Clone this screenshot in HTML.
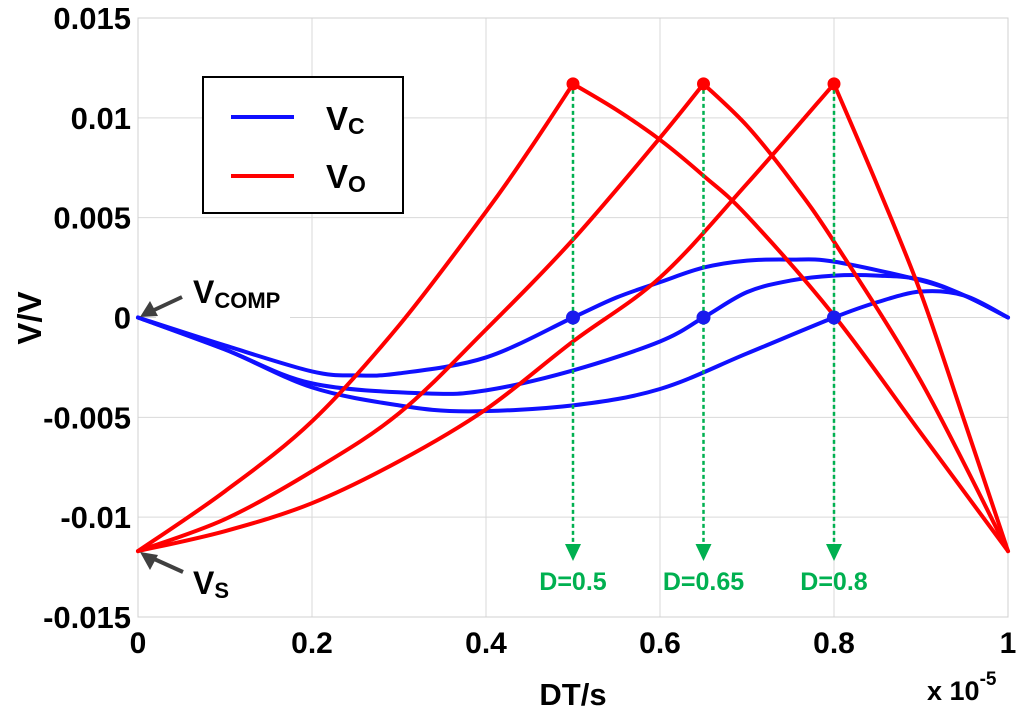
<!DOCTYPE html>
<html><head><meta charset="utf-8"><style>
html,body{margin:0;padding:0;background:#fff;}
svg{display:block;font-family:"Liberation Sans",Arial,sans-serif;font-weight:bold;}
</style></head><body>
<svg id="chart" width="1024" height="716" viewBox="0 0 1024 716" xmlns="http://www.w3.org/2000/svg"></svg>
<script>
const xTicks=[0,0.2,0.4,0.6,0.8,1];
const xTickLabels=["0","0.2","0.4","0.6","0.8","1"];
const yTicks=[0.015,0.01,0.005,0,-0.005,-0.01,-0.015];
const yTickLabels=["0.015","0.01","0.005","0","-0.005","-0.01","-0.015"];
const dutyValues=[0.5,0.65,0.8];
const dutyLabels=["D=0.5","D=0.65","D=0.8"];
const peakValue=0.0117;
const voX05=[0,0.1,0.2,0.3,0.4,0.45,0.5,0.55,0.6,0.65,0.7,0.8,0.9,1];
const voY05=[-0.0117,-0.0087,-0.0052,-0.0004,0.0053,0.0084,0.0117,0.0104,0.0089,0.0071,0.0051,0.0001,-0.0058,-0.0117];
const voX065=[0,0.1,0.2,0.3,0.4,0.5,0.6,0.65,0.7,0.75,0.8,0.9,1];
const voY065=[-0.0117,-0.0101,-0.0077,-0.0048,-0.0006,0.0039,0.0090,0.0117,0.0096,0.0069,0.0038,-0.0032,-0.0117];
const voX08=[0,0.1,0.2,0.3,0.4,0.5,0.6,0.7,0.8,0.85,0.9,0.95,1];
const voY08=[-0.0117,-0.0107,-0.0093,-0.0072,-0.0046,-0.0012,0.0020,0.0067,0.0117,0.0066,0.0012,-0.0052,-0.0117];
const vcX05=[0,0.1,0.2,0.25,0.3,0.4,0.5,0.55,0.6,0.65,0.7,0.75,0.8,0.9,0.95,1];
const vcY05=[0,-0.0014,-0.0027,-0.0029,-0.0028,-0.0020,0,0.0010,0.00177,0.0025,0.00285,0.0029,0.0028,0.00185,0.0011,0];
const vcX065=[0,0.1,0.2,0.33,0.4,0.5,0.6,0.65,0.7,0.75,0.8,0.85,0.9,0.95,1];
const vcY065=[0,-0.0016,-0.0033,-0.0038,-0.00365,-0.00265,-0.0012,0,0.00127,0.00185,0.0021,0.0021,0.0019,0.0011,0];
const vcX08=[0,0.1,0.2,0.3,0.38,0.5,0.6,0.7,0.8,0.85,0.9,0.95,1];
const vcY08=[0,-0.0016,-0.0035,-0.0044,-0.0047,-0.0044,-0.00358,-0.0018,0,0.00077,0.0013,0.0011,0];

const X0=138,X1=1008,YT=18,YB=617;
const sx=v=>X0+(v-0)/(1-0)*(X1-X0);
const sy=v=>YB-(v-(-0.015))/(0.03)*(YB-YT);
const NS="http://www.w3.org/2000/svg";
const svg=document.getElementById('chart');
function mk(tag,attrs,parent){const e=document.createElementNS(NS,tag);for(const k in attrs)e.setAttribute(k,attrs[k]);(parent||svg).appendChild(e);return e;}

xTicks.forEach((t,i)=>{
  const l=mk('line',{x1:sx(t),x2:sx(t),y1:YT,y2:YB,stroke:'#d9d9d9','stroke-width':1});
  
  
  const tx=mk('text',{x:sx(t),y:653,'text-anchor':'middle','font-size':30,fill:'#000'});
  tx.textContent=xTickLabels[i];
  
  
});
yTicks.forEach((t,i)=>{
  const l=mk('line',{x1:X0,x2:X1,y1:sy(t),y2:sy(t),stroke:'#d9d9d9','stroke-width':1});
  
  
  const tx=mk('text',{x:131,y:sy(t)+11,'text-anchor':'end','font-size':31,fill:'#000'});
  tx.textContent=yTickLabels[i];
  
  
});
const frame=mk('rect',{x:X0,y:YT,width:X1-X0,height:YB-YT,fill:'none',stroke:'#d0d0d0','stroke-width':1});



const bg=mk('rect',{x:156,y:300,width:134,height:30,fill:'#fff'});



function smoothPath(pts){
  let d='M'+pts[0][0]+','+pts[0][1];
  for(let i=0;i<pts.length-1;i++){
    const p0=pts[Math.max(0,i-1)],p1=pts[i],p2=pts[i+1],p3=pts[Math.min(pts.length-1,i+2)];
    const c1x=p1[0]+(p2[0]-p0[0])/6,c1y=p1[1]+(p2[1]-p0[1])/6;
    const c2x=p2[0]-(p3[0]-p1[0])/6,c2y=p2[1]-(p3[1]-p1[1])/6;
    d+=` C${c1x},${c1y} ${c2x},${c2y} ${p2[0]},${p2[1]}`;
  }
  return d;
}
function series(xs,ys,color,name,splitAt){
  const pts=xs.map((x,i)=>[sx(x),sy(ys[i])]);
  let d;
  if(splitAt!==undefined){
    const k=xs.indexOf(splitAt);
    d=smoothPath(pts.slice(0,k+1))+' '+smoothPath(pts.slice(k));
  } else d=smoothPath(pts);
  const p=mk('path',{d:d,fill:'none',stroke:color,'stroke-width':4,'stroke-linejoin':'round','stroke-linecap':'round'});
  
  
}
series(vcX05,vcY05,'#1010ff','vc-d050-line');
series(vcX065,vcY065,'#1010ff','vc-d065-line');
series(vcX08,vcY08,'#1010ff','vc-d080-line');
series(voX05,voY05,'#ff0000','vo-d050-line',dutyValues[0]);
series(voX065,voY065,'#ff0000','vo-d065-line',dutyValues[1]);
series(voX08,voY08,'#ff0000','vo-d080-line',dutyValues[2]);

dutyValues.forEach((d,i)=>{
  const g=mk('line',{x1:sx(d),x2:sx(d),y1:sy(peakValue)+6,y2:548,stroke:'#00b050','stroke-width':2.5,'stroke-dasharray':'4,3'});
  
  
  const a=mk('polygon',{points:`${sx(d)-8},544 ${sx(d)+8},544 ${sx(d)},561`,fill:'#00b050'});
  
  
  const t=mk('text',{x:sx(d),y:590,'text-anchor':'middle','font-size':25,fill:'#00b050'});
  t.textContent=dutyLabels[i];
  
  
  const r=mk('circle',{cx:sx(d),cy:sy(peakValue),r:6.5,fill:'#ff0000'});
  
  
  const b=mk('circle',{cx:sx(d),cy:sy(0),r:7,fill:'#1a1aee'});
  
  
});
</script>
<svg style="position:absolute;left:0;top:0" width="1024" height="716">
  <g>
    <rect x="203" y="77" width="200" height="136" fill="#fff" stroke="#000" stroke-width="2"/>
    <line x1="231" y1="117" x2="294" y2="117" stroke="#1010ff" stroke-width="4"/>
    <line x1="231" y1="176" x2="294" y2="176" stroke="#ff0000" stroke-width="4"/>
    <text x="326" y="130" font-size="33" font-weight="bold" font-family="Liberation Sans, sans-serif">V<tspan font-size="23" dy="4">C</tspan></text>
    <text x="326" y="188" font-size="33" font-weight="bold" font-family="Liberation Sans, sans-serif">V<tspan font-size="23" dy="4">O</tspan></text>
  </g>
  <g fill="#404040" stroke="#404040">
    <line x1="182" y1="297" x2="152" y2="311" stroke-width="4"/>
    <polygon points="140,317 150,301 158,316" stroke="none"/>
  </g>
  <text x="193" y="303" font-size="32" font-weight="bold" font-family="Liberation Sans, sans-serif">V<tspan font-size="22" dy="5">COMP</tspan></text>
  <g fill="#404040" stroke="#404040">
    <line x1="183" y1="572" x2="152" y2="558" stroke-width="4"/>
    <polygon points="140,552 158,555 150,570" stroke="none"/>
  </g>
  <text x="193" y="594" font-size="32" font-weight="bold" font-family="Liberation Sans, sans-serif">V<tspan font-size="22" dy="4">S</tspan></text>
  <text x="573" y="705" text-anchor="middle" font-size="31" font-weight="bold" font-family="Liberation Sans, sans-serif">DT/s</text>
  <text x="927" y="700" font-size="27" font-weight="bold" font-family="Liberation Sans, sans-serif">x 10<tspan font-size="19" dy="-15">-5</tspan></text>
  <text transform="translate(41,318) rotate(-90)" text-anchor="middle" font-size="33" font-weight="bold" font-family="Liberation Sans, sans-serif">V/V</text>
</svg>
</body></html>
